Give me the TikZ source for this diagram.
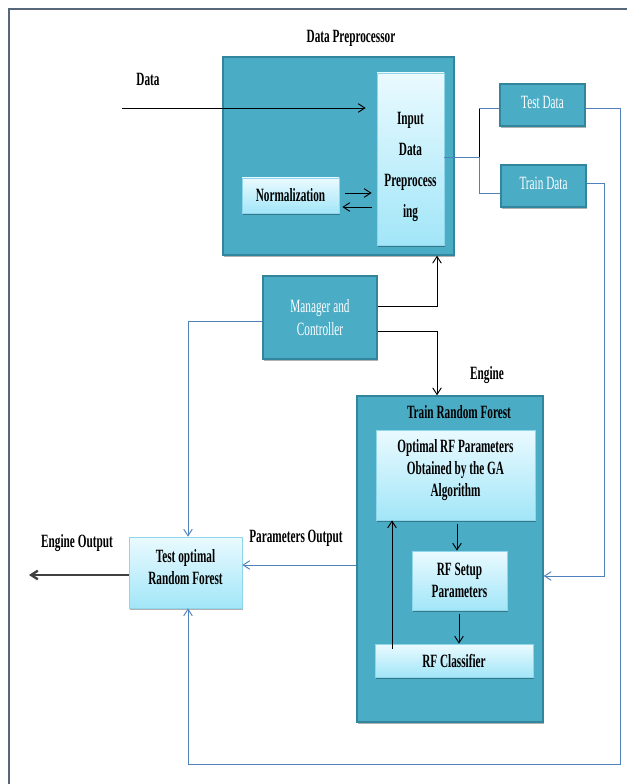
\documentclass[tikz,border=0pt]{standalone}
\usepackage{fontspec}
\setmainfont{Liberation Serif}[FakeStretch=0.6]
\usepackage{tikz}
\usetikzlibrary{arrows.meta}
\usetikzlibrary{shadows}
\definecolor{tealfill}{HTML}{4BACC6}
\definecolor{tealkant}{HTML}{31859C}
\definecolor{lystopp}{HTML}{EAFAFF}
\definecolor{lysbunn}{HTML}{A2E6F8}
\definecolor{lyskant}{HTML}{8FD6EA}
\definecolor{blaa}{HTML}{4F81BD}
\definecolor{ramme}{HTML}{56677A}
\tikzset{
  %Define standard arrow tip
  >={Straight Barb[length=2mm,width=2.6mm]},
  %Define style for boxes
  boks/.style={
    rectangle,
    fill=tealfill,
    draw=tealkant, line width=1.2pt,
    drop shadow={shadow xshift=0.3mm,shadow yshift=-0.5mm,fill=black,opacity=0.3},
    text=white,
    align=center},
  lysboks/.style={
    rectangle,
    top color=lystopp, bottom color=lysbunn,
    draw=lyskant, line width=0.6pt,
    drop shadow={shadow xshift=0.3mm,shadow yshift=-0.6mm,fill=black,opacity=0.3},
    font=\fontsize{16}{19}\selectfont\bfseries,
    inner sep=2pt,
    align=center},
  % Define arrow style
  pil/.style={
    ->,
    line width=0.8pt},
  blaapil/.style={
    ->,
    draw=blaa,
    line width=0.8pt}
}

\begin{document}
\begin{tikzpicture}[x=0.3mm,y=-0.3mm,font=\fontsize{16}{19}\selectfont,
        tittel/.style={font=\fontsize{16}{19}\selectfont\bfseries}]
      \useasboundingbox (0,0) rectangle (627,784);
      \draw[ramme, line width=1.2pt] (9,784) |- (627,9);

      % data preprocessor
      \node[tittel] (dptittel) at (351,38) {Data Preprocessor};
      \node[boks, minimum width=231*0.3mm, minimum height=198*0.3mm] (dp) at (338.5,156) {};
      \node[lysboks, minimum width=67*0.3mm, minimum height=172*0.3mm, text height=104pt, text depth=3.5pt,
            font=\fontsize{16}{26.5}\selectfont\bfseries] (inndata) at (410.5,159)
            {Input\\Data\\Preprocess\\ing};
      \node[lysboks, minimum width=97*0.3mm, minimum height=35*0.3mm] (norm) at (290.5,195.5) {Normalization};
      \node[tittel] (datatekst) at (148,79) {Data};
      \coordinate (datainn) at (122,108);

      \node[boks, text depth=5pt, minimum width=85*0.3mm, minimum height=42*0.3mm] (testdata) at (542.5,105) {Test Data};
      \node[boks, text depth=5pt, minimum width=85*0.3mm, minimum height=42*0.3mm] (traindata) at (543.5,186) {Train Data};

      % manager
      \node[boks, minimum width=114*0.3mm, minimum height=83*0.3mm] (mgr) at (320,317.5) {Manager and\\Controller};

      % engine
      \node[tittel] (motor) at (487,375) {Engine};
      \node[boks, minimum width=186*0.3mm, minimum height=326*0.3mm] (trainrf) at (450,559) {};
      \node[tittel] (trainrftittel) at (459,412) {Train Random Forest};
      \node[lysboks, text depth=12pt, minimum width=159*0.3mm, minimum height=90*0.3mm] (optimal) at (455.5,475)
            {Optimal RF Parameters\\Obtained by the GA\\Algorithm};
      \node[lysboks, minimum width=95*0.3mm, minimum height=59*0.3mm] (oppsett) at (459.5,580.5)
            {RF Setup\\Parameters};
      \node[lysboks, minimum width=158*0.3mm, minimum height=33*0.3mm] (klass) at (454,660.5) {RF Classifier};

      % output
      \node[lysboks, text depth=9pt, minimum width=113*0.3mm, minimum height=71*0.3mm] (testrf) at (185.5,572.5)
            {Test optimal\\Random Forest};
      \node[tittel] (paramtekst) at (296,538) {Parameters Output};
      \node[tittel] (uttekst) at (77,543) {Engine Output};
      \coordinate (motorut) at (29,575);
      \coordinate (deling) at (479,157);
      \coordinate (sloyfe) at (620,764);
      \coordinate (trainhjorne) at (604,576);

      \draw[pil, shorten >=3.3mm] (datainn) -- (inndata.west |- datainn);
      \draw[pil, shorten <=1.8mm, shorten >=1.5mm] (norm.east |- 0,193) -- (inndata.west |- 0,193);
      \draw[pil, shorten <=1.5mm, shorten >=0.9mm] (inndata.west |- 0,207) -- (norm.east |- 0,207);

      \draw[blaa, line width=0.8pt] (inndata.east |- deling) -- (deling);
      \draw[line width=0.8pt] (deling) -- (deling |- 0,108);
      \draw[blaa, line width=0.8pt] (deling |- 0,108) -- (testdata.west |- 0,108);
      \draw[blaa, line width=0.8pt] (deling) |- (traindata.west |- 0,193);

      \draw[blaapil] (testdata.east |- 0,108) -| (sloyfe) -| (testrf.south -| 188,0);
      \draw[blaapil] (traindata.east |- 0,183) -| (trainhjorne) -- (trainrf.east |- trainhjorne);

      \draw[pil] (mgr.east |- 0,306) -| (dp.south -| 437,0);
      \draw[pil] (mgr.east |- 0,331) -| (trainrf.north -| 437,0);
      \draw[blaapil] (mgr.west |- 0,321) -| (testrf.north -| 188,0);

      \draw[pil, shorten <=1mm] (optimal.south -| 457,0) -- (oppsett.north -| 457,0);
      \draw[pil, shorten <=1mm] (oppsett.south -| 459,0) -- (klass.north -| 459,0);
      \draw[pil, shorten <=-1.5mm] (klass.north -| 392,0) -- (optimal.south -| 392,0);

      \draw[blaapil] (trainrf.west |- 0,565) -- (testrf.east |- 0,565);
      \draw[->, draw=black!75, line width=2pt] (testrf.west |- motorut) -- (motorut);
    \end{tikzpicture}
\end{document}
